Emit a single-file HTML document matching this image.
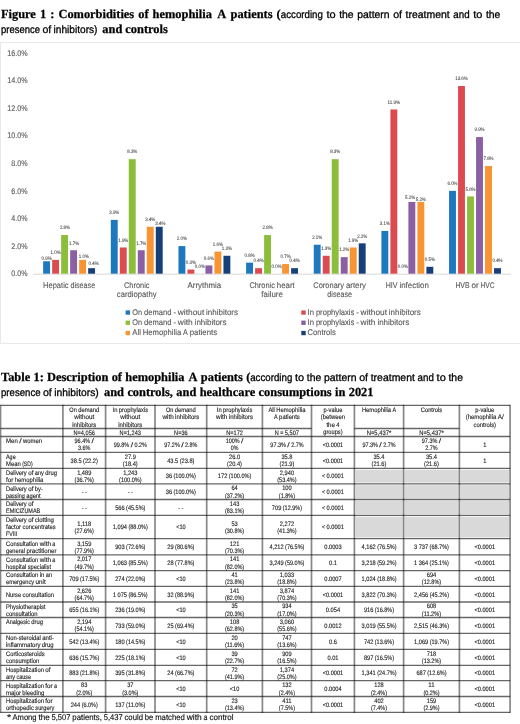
<!DOCTYPE html>
<html><head><meta charset="utf-8"><style>
html,body{margin:0;padding:0;background:#fff;width:520px;height:724px;overflow:hidden}
svg{display:block;font-family:"Liberation Sans",sans-serif;text-rendering:geometricPrecision;will-change:transform}
</style></head><body>
<svg width="520" height="724" viewBox="0 0 520 724">
<text x="1.00" y="18.10" font-family="Liberation Serif" font-weight="bold" font-size="12.4" fill="#000" stroke="#000" stroke-width="0.25" word-spacing="0.98">Figure 1 : Comorbidities of hemophilia</text>
<text x="217.25" y="18.10" font-family="Liberation Serif" font-weight="bold" font-size="12.4" fill="#000" stroke="#000" stroke-width="0.25">A</text>
<text x="230.50" y="18.10" font-family="Liberation Serif" font-weight="bold" font-size="12.4" fill="#000" stroke="#000" stroke-width="0.25">patients</text>
<text x="276.40" y="18.10" font-family="Liberation Serif" font-weight="bold" font-size="12.4" fill="#000" stroke="#000" stroke-width="0.25">(</text>
<g font-size="10.65" fill="#000" stroke="#000" stroke-width="0.3"><text x="280.80" y="18.10" textLength="42.09" lengthAdjust="spacingAndGlyphs">according</text><text x="326.43" y="18.10" textLength="9.18" lengthAdjust="spacingAndGlyphs">to</text><text x="339.16" y="18.10" textLength="14.46" lengthAdjust="spacingAndGlyphs">the</text><text x="357.17" y="18.10" textLength="32.44" lengthAdjust="spacingAndGlyphs">pattern</text><text x="393.15" y="18.10" textLength="8.87" lengthAdjust="spacingAndGlyphs">of</text><text x="405.56" y="18.10" textLength="44.22" lengthAdjust="spacingAndGlyphs">treatment</text><text x="453.32" y="18.10" textLength="16.29" lengthAdjust="spacingAndGlyphs">and</text><text x="473.16" y="18.10" textLength="9.18" lengthAdjust="spacingAndGlyphs">to</text><text x="485.89" y="18.10" textLength="14.46" lengthAdjust="spacingAndGlyphs">the</text></g>
<g font-size="10.65" fill="#000" stroke="#000" stroke-width="0.3"><text x="1.00" y="32.50" textLength="39.04" lengthAdjust="spacingAndGlyphs">presence</text><text x="42.43" y="32.50" textLength="8.77" lengthAdjust="spacingAndGlyphs">of</text><text x="53.58" y="32.50" textLength="43.92" lengthAdjust="spacingAndGlyphs">inhibitors)</text></g>
<text x="102.30" y="32.50" font-family="Liberation Serif" font-weight="bold" font-size="12.4" fill="#000" stroke="#000" stroke-width="0.25">and controls</text>
<rect x="0.5" y="42.5" width="540" height="301" fill="none" stroke="#e9e9e9" stroke-width="1"/>
<g font-size="8.20" fill="#595959" stroke="#595959" stroke-width="0.12"><text x="11.35" y="276.30" textLength="16.25" lengthAdjust="spacingAndGlyphs">0.0%</text></g>
<g font-size="8.20" fill="#595959" stroke="#595959" stroke-width="0.12"><text x="11.35" y="248.70" textLength="16.25" lengthAdjust="spacingAndGlyphs">2.0%</text></g>
<g font-size="8.20" fill="#595959" stroke="#595959" stroke-width="0.12"><text x="11.35" y="221.10" textLength="16.25" lengthAdjust="spacingAndGlyphs">4.0%</text></g>
<g font-size="8.20" fill="#595959" stroke="#595959" stroke-width="0.12"><text x="11.35" y="193.50" textLength="16.25" lengthAdjust="spacingAndGlyphs">6.0%</text></g>
<g font-size="8.20" fill="#595959" stroke="#595959" stroke-width="0.12"><text x="11.35" y="165.90" textLength="16.25" lengthAdjust="spacingAndGlyphs">8.0%</text></g>
<g font-size="8.20" fill="#595959" stroke="#595959" stroke-width="0.12"><text x="7.20" y="138.30" textLength="20.40" lengthAdjust="spacingAndGlyphs">10.0%</text></g>
<g font-size="8.20" fill="#595959" stroke="#595959" stroke-width="0.12"><text x="7.20" y="110.70" textLength="20.40" lengthAdjust="spacingAndGlyphs">12.0%</text></g>
<g font-size="8.20" fill="#595959" stroke="#595959" stroke-width="0.12"><text x="7.20" y="83.10" textLength="20.40" lengthAdjust="spacingAndGlyphs">14.0%</text></g>
<g font-size="8.20" fill="#595959" stroke="#595959" stroke-width="0.12"><text x="7.20" y="55.50" textLength="20.40" lengthAdjust="spacingAndGlyphs">16.0%</text></g>
<line x1="33.00" y1="274.20" x2="511.00" y2="274.20" stroke="#d9d9d9" stroke-width="1"/>
<rect x="43.15" y="261.28" width="6.90" height="12.42" fill="#1E78BE"/>
<g font-size="5.10" fill="#454545" stroke="#454545" stroke-width="0.08"><text x="41.55" y="259.98" textLength="10.11" lengthAdjust="spacingAndGlyphs">0.9%</text></g>
<rect x="52.15" y="259.90" width="6.90" height="13.80" fill="#DC4B50"/>
<g font-size="5.10" fill="#454545" stroke="#454545" stroke-width="0.08"><text x="50.55" y="254.20" textLength="10.11" lengthAdjust="spacingAndGlyphs">1.0%</text></g>
<rect x="61.15" y="235.06" width="6.90" height="38.64" fill="#8CBE3C"/>
<g font-size="5.10" fill="#454545" stroke="#454545" stroke-width="0.08"><text x="59.90" y="229.36" textLength="10.11" lengthAdjust="spacingAndGlyphs">2.8%</text></g>
<rect x="70.15" y="250.24" width="6.90" height="23.46" fill="#8C5FA5"/>
<g font-size="5.10" fill="#454545" stroke="#454545" stroke-width="0.08"><text x="69.00" y="244.54" textLength="10.11" lengthAdjust="spacingAndGlyphs">1.7%</text></g>
<rect x="79.15" y="259.90" width="6.90" height="13.80" fill="#F99433"/>
<g font-size="5.10" fill="#454545" stroke="#454545" stroke-width="0.08"><text x="78.75" y="257.60" textLength="10.11" lengthAdjust="spacingAndGlyphs">1.0%</text></g>
<rect x="88.15" y="268.18" width="6.90" height="5.52" fill="#173F78"/>
<g font-size="5.10" fill="#454545" stroke="#454545" stroke-width="0.08"><text x="88.55" y="265.33" textLength="10.11" lengthAdjust="spacingAndGlyphs">0.4%</text></g>
<g font-size="8.20" fill="#595959" stroke="#595959" stroke-width="0.12"><text x="43.07" y="287.70" textLength="25.52" lengthAdjust="spacingAndGlyphs">Hepatic</text><text x="70.44" y="287.70" textLength="24.69" lengthAdjust="spacingAndGlyphs">disease</text></g>
<rect x="110.80" y="219.88" width="6.90" height="53.82" fill="#1E78BE"/>
<g font-size="5.10" fill="#454545" stroke="#454545" stroke-width="0.08"><text x="109.20" y="214.18" textLength="10.11" lengthAdjust="spacingAndGlyphs">3.9%</text></g>
<rect x="119.80" y="247.48" width="6.90" height="26.22" fill="#DC4B50"/>
<g font-size="5.10" fill="#454545" stroke="#454545" stroke-width="0.08"><text x="118.20" y="241.78" textLength="10.11" lengthAdjust="spacingAndGlyphs">1.9%</text></g>
<rect x="128.80" y="159.16" width="6.90" height="114.54" fill="#8CBE3C"/>
<g font-size="5.10" fill="#454545" stroke="#454545" stroke-width="0.08"><text x="127.20" y="153.46" textLength="10.11" lengthAdjust="spacingAndGlyphs">8.3%</text></g>
<rect x="137.80" y="250.24" width="6.90" height="23.46" fill="#8C5FA5"/>
<g font-size="5.10" fill="#454545" stroke="#454545" stroke-width="0.08"><text x="136.20" y="244.54" textLength="10.11" lengthAdjust="spacingAndGlyphs">1.7%</text></g>
<rect x="146.80" y="226.78" width="6.90" height="46.92" fill="#F99433"/>
<g font-size="5.10" fill="#454545" stroke="#454545" stroke-width="0.08"><text x="145.20" y="221.08" textLength="10.11" lengthAdjust="spacingAndGlyphs">3.4%</text></g>
<rect x="155.80" y="226.78" width="6.90" height="46.92" fill="#173F78"/>
<g font-size="5.10" fill="#454545" stroke="#454545" stroke-width="0.08"><text x="155.30" y="225.38" textLength="10.11" lengthAdjust="spacingAndGlyphs">3.4%</text></g>
<g font-size="8.20" fill="#595959" stroke="#595959" stroke-width="0.12"><text x="123.99" y="287.70" textLength="25.52" lengthAdjust="spacingAndGlyphs">Chronic</text></g>
<g font-size="8.20" fill="#595959" stroke="#595959" stroke-width="0.12"><text x="116.86" y="297.40" textLength="39.77" lengthAdjust="spacingAndGlyphs">cardiopathy</text></g>
<rect x="178.45" y="246.10" width="6.90" height="27.60" fill="#1E78BE"/>
<g font-size="5.10" fill="#454545" stroke="#454545" stroke-width="0.08"><text x="176.85" y="240.40" textLength="10.11" lengthAdjust="spacingAndGlyphs">2.0%</text></g>
<rect x="187.45" y="269.56" width="6.90" height="4.14" fill="#DC4B50"/>
<g font-size="5.10" fill="#454545" stroke="#454545" stroke-width="0.08"><text x="185.85" y="263.86" textLength="10.11" lengthAdjust="spacingAndGlyphs">0.3%</text></g>
<g font-size="5.10" fill="#454545" stroke="#454545" stroke-width="0.08"><text x="194.85" y="268.00" textLength="10.11" lengthAdjust="spacingAndGlyphs">0.0%</text></g>
<rect x="205.45" y="265.42" width="6.90" height="8.28" fill="#8C5FA5"/>
<g font-size="5.10" fill="#454545" stroke="#454545" stroke-width="0.08"><text x="203.85" y="259.72" textLength="10.11" lengthAdjust="spacingAndGlyphs">0.6%</text></g>
<rect x="214.45" y="251.62" width="6.90" height="22.08" fill="#F99433"/>
<g font-size="5.10" fill="#454545" stroke="#454545" stroke-width="0.08"><text x="212.85" y="245.92" textLength="10.11" lengthAdjust="spacingAndGlyphs">1.6%</text></g>
<rect x="223.45" y="255.76" width="6.90" height="17.94" fill="#173F78"/>
<g font-size="5.10" fill="#454545" stroke="#454545" stroke-width="0.08"><text x="221.85" y="250.06" textLength="10.11" lengthAdjust="spacingAndGlyphs">1.3%</text></g>
<g font-size="8.20" fill="#595959" stroke="#595959" stroke-width="0.12"><text x="187.61" y="287.70" textLength="33.59" lengthAdjust="spacingAndGlyphs">Arrythmia</text></g>
<rect x="246.10" y="262.66" width="6.90" height="11.04" fill="#1E78BE"/>
<g font-size="5.10" fill="#454545" stroke="#454545" stroke-width="0.08"><text x="244.50" y="256.96" textLength="10.11" lengthAdjust="spacingAndGlyphs">0.8%</text></g>
<rect x="255.10" y="268.18" width="6.90" height="5.52" fill="#DC4B50"/>
<g font-size="5.10" fill="#454545" stroke="#454545" stroke-width="0.08"><text x="253.50" y="262.48" textLength="10.11" lengthAdjust="spacingAndGlyphs">0.4%</text></g>
<rect x="264.10" y="235.06" width="6.90" height="38.64" fill="#8CBE3C"/>
<g font-size="5.10" fill="#454545" stroke="#454545" stroke-width="0.08"><text x="262.50" y="229.36" textLength="10.11" lengthAdjust="spacingAndGlyphs">2.8%</text></g>
<g font-size="5.10" fill="#454545" stroke="#454545" stroke-width="0.08"><text x="271.50" y="268.00" textLength="10.11" lengthAdjust="spacingAndGlyphs">0.0%</text></g>
<rect x="282.10" y="264.04" width="6.90" height="9.66" fill="#F99433"/>
<g font-size="5.10" fill="#454545" stroke="#454545" stroke-width="0.08"><text x="280.50" y="258.34" textLength="10.11" lengthAdjust="spacingAndGlyphs">0.7%</text></g>
<rect x="291.10" y="268.18" width="6.90" height="5.52" fill="#173F78"/>
<g font-size="5.10" fill="#454545" stroke="#454545" stroke-width="0.08"><text x="289.50" y="262.48" textLength="10.11" lengthAdjust="spacingAndGlyphs">0.4%</text></g>
<g font-size="8.20" fill="#595959" stroke="#595959" stroke-width="0.12"><text x="249.40" y="287.70" textLength="25.52" lengthAdjust="spacingAndGlyphs">Chronic</text><text x="276.78" y="287.70" textLength="17.92" lengthAdjust="spacingAndGlyphs">heart</text></g>
<g font-size="8.20" fill="#595959" stroke="#595959" stroke-width="0.12"><text x="261.33" y="297.40" textLength="21.44" lengthAdjust="spacingAndGlyphs">failure</text></g>
<rect x="313.75" y="244.72" width="6.90" height="28.98" fill="#1E78BE"/>
<g font-size="5.10" fill="#454545" stroke="#454545" stroke-width="0.08"><text x="312.15" y="239.02" textLength="10.11" lengthAdjust="spacingAndGlyphs">2.1%</text></g>
<rect x="322.75" y="255.76" width="6.90" height="17.94" fill="#DC4B50"/>
<g font-size="5.10" fill="#454545" stroke="#454545" stroke-width="0.08"><text x="321.15" y="250.06" textLength="10.11" lengthAdjust="spacingAndGlyphs">1.3%</text></g>
<rect x="331.75" y="159.16" width="6.90" height="114.54" fill="#8CBE3C"/>
<g font-size="5.10" fill="#454545" stroke="#454545" stroke-width="0.08"><text x="330.15" y="153.46" textLength="10.11" lengthAdjust="spacingAndGlyphs">8.3%</text></g>
<rect x="340.75" y="257.14" width="6.90" height="16.56" fill="#8C5FA5"/>
<g font-size="5.10" fill="#454545" stroke="#454545" stroke-width="0.08"><text x="339.15" y="251.44" textLength="10.11" lengthAdjust="spacingAndGlyphs">1.2%</text></g>
<rect x="349.75" y="247.48" width="6.90" height="26.22" fill="#F99433"/>
<g font-size="5.10" fill="#454545" stroke="#454545" stroke-width="0.08"><text x="348.15" y="241.78" textLength="10.11" lengthAdjust="spacingAndGlyphs">1.9%</text></g>
<rect x="358.75" y="243.34" width="6.90" height="30.36" fill="#173F78"/>
<g font-size="5.10" fill="#454545" stroke="#454545" stroke-width="0.08"><text x="357.15" y="237.64" textLength="10.11" lengthAdjust="spacingAndGlyphs">2.2%</text></g>
<g font-size="8.20" fill="#595959" stroke="#595959" stroke-width="0.12"><text x="313.34" y="287.70" textLength="30.69" lengthAdjust="spacingAndGlyphs">Coronary</text><text x="345.88" y="287.70" textLength="20.18" lengthAdjust="spacingAndGlyphs">artery</text></g>
<g font-size="8.20" fill="#595959" stroke="#595959" stroke-width="0.12"><text x="327.35" y="297.40" textLength="24.69" lengthAdjust="spacingAndGlyphs">disease</text></g>
<rect x="381.40" y="230.92" width="6.90" height="42.78" fill="#1E78BE"/>
<g font-size="5.10" fill="#454545" stroke="#454545" stroke-width="0.08"><text x="379.80" y="225.22" textLength="10.11" lengthAdjust="spacingAndGlyphs">3.1%</text></g>
<rect x="390.40" y="109.48" width="6.90" height="164.22" fill="#DC4B50"/>
<g font-size="5.10" fill="#454545" stroke="#454545" stroke-width="0.08"><text x="387.50" y="103.78" textLength="12.69" lengthAdjust="spacingAndGlyphs">11.9%</text></g>
<g font-size="5.10" fill="#454545" stroke="#454545" stroke-width="0.08"><text x="397.80" y="268.00" textLength="10.11" lengthAdjust="spacingAndGlyphs">0.0%</text></g>
<rect x="408.40" y="201.94" width="6.90" height="71.76" fill="#8C5FA5"/>
<g font-size="5.10" fill="#454545" stroke="#454545" stroke-width="0.08"><text x="405.00" y="198.54" textLength="10.11" lengthAdjust="spacingAndGlyphs">5.2%</text></g>
<rect x="417.40" y="201.94" width="6.90" height="71.76" fill="#F99433"/>
<g font-size="5.10" fill="#454545" stroke="#454545" stroke-width="0.08"><text x="415.70" y="200.54" textLength="10.11" lengthAdjust="spacingAndGlyphs">5.2%</text></g>
<rect x="426.40" y="266.80" width="6.90" height="6.90" fill="#173F78"/>
<g font-size="5.10" fill="#454545" stroke="#454545" stroke-width="0.08"><text x="424.80" y="261.10" textLength="10.11" lengthAdjust="spacingAndGlyphs">0.5%</text></g>
<g font-size="8.20" fill="#595959" stroke="#595959" stroke-width="0.12"><text x="385.76" y="287.70" textLength="11.83" lengthAdjust="spacingAndGlyphs">HIV</text><text x="399.44" y="287.70" textLength="29.50" lengthAdjust="spacingAndGlyphs">infection</text></g>
<rect x="449.05" y="190.90" width="6.90" height="82.80" fill="#1E78BE"/>
<g font-size="5.10" fill="#454545" stroke="#454545" stroke-width="0.08"><text x="447.45" y="185.20" textLength="10.11" lengthAdjust="spacingAndGlyphs">6.0%</text></g>
<rect x="458.05" y="86.02" width="6.90" height="187.68" fill="#DC4B50"/>
<g font-size="5.10" fill="#454545" stroke="#454545" stroke-width="0.08"><text x="455.15" y="80.32" textLength="12.69" lengthAdjust="spacingAndGlyphs">13.6%</text></g>
<rect x="467.05" y="196.42" width="6.90" height="77.28" fill="#8CBE3C"/>
<g font-size="5.10" fill="#454545" stroke="#454545" stroke-width="0.08"><text x="465.45" y="190.72" textLength="10.11" lengthAdjust="spacingAndGlyphs">5.6%</text></g>
<rect x="476.05" y="137.08" width="6.90" height="136.62" fill="#8C5FA5"/>
<g font-size="5.10" fill="#454545" stroke="#454545" stroke-width="0.08"><text x="474.45" y="131.38" textLength="10.11" lengthAdjust="spacingAndGlyphs">9.9%</text></g>
<rect x="485.05" y="166.06" width="6.90" height="107.64" fill="#F99433"/>
<g font-size="5.10" fill="#454545" stroke="#454545" stroke-width="0.08"><text x="483.45" y="160.36" textLength="10.11" lengthAdjust="spacingAndGlyphs">7.8%</text></g>
<rect x="494.05" y="268.18" width="6.90" height="5.52" fill="#173F78"/>
<g font-size="5.10" fill="#454545" stroke="#454545" stroke-width="0.08"><text x="492.45" y="262.48" textLength="10.11" lengthAdjust="spacingAndGlyphs">0.4%</text></g>
<g font-size="8.20" fill="#595959" stroke="#595959" stroke-width="0.12"><text x="455.38" y="287.70" textLength="14.22" lengthAdjust="spacingAndGlyphs">HVB</text><text x="471.45" y="287.70" textLength="7.18" lengthAdjust="spacingAndGlyphs">or</text><text x="480.49" y="287.70" textLength="14.13" lengthAdjust="spacingAndGlyphs">HVC</text></g>
<rect x="125.60" y="310.40" width="4.40" height="4.30" fill="#1E78BE"/>
<g font-size="8.25" fill="#595959" stroke="#595959" stroke-width="0.12"><text x="132.30" y="314.70" textLength="9.80" lengthAdjust="spacingAndGlyphs">On</text><text x="143.96" y="314.70" textLength="27.65" lengthAdjust="spacingAndGlyphs">demand</text><text x="173.48" y="314.70" textLength="2.53" lengthAdjust="spacingAndGlyphs">-</text><text x="177.87" y="314.70" textLength="26.34" lengthAdjust="spacingAndGlyphs">without</text><text x="206.07" y="314.70" textLength="31.90" lengthAdjust="spacingAndGlyphs">inhibitors</text></g>
<rect x="301.30" y="310.40" width="4.40" height="4.30" fill="#DC4B50"/>
<g font-size="8.25" fill="#595959" stroke="#595959" stroke-width="0.12"><text x="307.60" y="314.70" textLength="6.41" lengthAdjust="spacingAndGlyphs">In</text><text x="315.88" y="314.70" textLength="38.50" lengthAdjust="spacingAndGlyphs">prophylaxis</text><text x="356.25" y="314.70" textLength="2.53" lengthAdjust="spacingAndGlyphs">-</text><text x="360.64" y="314.70" textLength="26.34" lengthAdjust="spacingAndGlyphs">without</text><text x="388.84" y="314.70" textLength="31.90" lengthAdjust="spacingAndGlyphs">inhibitors</text></g>
<rect x="125.60" y="320.60" width="4.40" height="4.30" fill="#8CBE3C"/>
<g font-size="8.25" fill="#595959" stroke="#595959" stroke-width="0.12"><text x="132.30" y="324.90" textLength="9.80" lengthAdjust="spacingAndGlyphs">On</text><text x="143.96" y="324.90" textLength="27.65" lengthAdjust="spacingAndGlyphs">demand</text><text x="173.48" y="324.90" textLength="2.53" lengthAdjust="spacingAndGlyphs">-</text><text x="177.87" y="324.90" textLength="14.89" lengthAdjust="spacingAndGlyphs">with</text><text x="194.62" y="324.90" textLength="31.90" lengthAdjust="spacingAndGlyphs">inhibitors</text></g>
<rect x="301.30" y="320.60" width="4.40" height="4.30" fill="#8C5FA5"/>
<g font-size="8.25" fill="#595959" stroke="#595959" stroke-width="0.12"><text x="307.60" y="324.90" textLength="6.41" lengthAdjust="spacingAndGlyphs">In</text><text x="315.88" y="324.90" textLength="38.50" lengthAdjust="spacingAndGlyphs">prophylaxis</text><text x="356.25" y="324.90" textLength="2.53" lengthAdjust="spacingAndGlyphs">-</text><text x="360.64" y="324.90" textLength="14.89" lengthAdjust="spacingAndGlyphs">with</text><text x="377.39" y="324.90" textLength="31.90" lengthAdjust="spacingAndGlyphs">inhibitors</text></g>
<rect x="125.60" y="330.90" width="4.40" height="4.30" fill="#F99433"/>
<g font-size="8.25" fill="#595959" stroke="#595959" stroke-width="0.12"><text x="132.30" y="335.20" textLength="8.56" lengthAdjust="spacingAndGlyphs">All</text><text x="142.73" y="335.20" textLength="38.49" lengthAdjust="spacingAndGlyphs">Hemophilia</text><text x="183.08" y="335.20" textLength="4.77" lengthAdjust="spacingAndGlyphs">A</text><text x="189.72" y="335.20" textLength="27.37" lengthAdjust="spacingAndGlyphs">patients</text></g>
<rect x="301.30" y="330.90" width="4.40" height="4.30" fill="#173F78"/>
<g font-size="8.25" fill="#595959" stroke="#595959" stroke-width="0.12"><text x="307.60" y="335.20" textLength="28.19" lengthAdjust="spacingAndGlyphs">Controls</text></g>
<text x="1.00" y="381.30" font-family="Liberation Serif" font-weight="bold" font-size="12.4" fill="#000" stroke="#000" stroke-width="0.25" word-spacing="0.20">Table 1: Description of hemophilia</text>
<text x="188.50" y="381.30" font-family="Liberation Serif" font-weight="bold" font-size="12.4" fill="#000" stroke="#000" stroke-width="0.25">A</text>
<text x="200.80" y="381.30" font-family="Liberation Serif" font-weight="bold" font-size="12.4" fill="#000" stroke="#000" stroke-width="0.25">patients</text>
<text x="246.20" y="381.30" font-family="Liberation Serif" font-weight="bold" font-size="12.4" fill="#000" stroke="#000" stroke-width="0.25">(</text>
<g font-size="10.65" fill="#000" stroke="#000" stroke-width="0.3"><text x="250.20" y="381.30" textLength="42.09" lengthAdjust="spacingAndGlyphs">according</text><text x="294.98" y="381.30" textLength="9.18" lengthAdjust="spacingAndGlyphs">to</text><text x="306.86" y="381.30" textLength="14.46" lengthAdjust="spacingAndGlyphs">the</text><text x="324.02" y="381.30" textLength="32.44" lengthAdjust="spacingAndGlyphs">pattern</text><text x="359.15" y="381.30" textLength="8.87" lengthAdjust="spacingAndGlyphs">of</text><text x="370.71" y="381.30" textLength="44.22" lengthAdjust="spacingAndGlyphs">treatment</text><text x="417.62" y="381.30" textLength="16.29" lengthAdjust="spacingAndGlyphs">and</text><text x="436.61" y="381.30" textLength="9.18" lengthAdjust="spacingAndGlyphs">to</text><text x="448.49" y="381.30" textLength="14.46" lengthAdjust="spacingAndGlyphs">the</text></g>
<g font-size="10.65" fill="#000" stroke="#000" stroke-width="0.3"><text x="1.00" y="395.50" textLength="39.53" lengthAdjust="spacingAndGlyphs">presence</text><text x="42.94" y="395.50" textLength="8.88" lengthAdjust="spacingAndGlyphs">of</text><text x="54.23" y="395.50" textLength="44.47" lengthAdjust="spacingAndGlyphs">inhibitors)</text></g>
<text x="104.00" y="395.50" font-family="Liberation Serif" font-weight="bold" font-size="12.4" fill="#000" stroke="#000" stroke-width="0.25" word-spacing="0.30">and controls, and healthcare consumptions in 2021</text>
<rect x="355.70" y="469.70" width="46.90" height="12.90" fill="#d9d9d9"/>
<rect x="404.90" y="469.70" width="53.50" height="12.90" fill="#d9d9d9"/>
<rect x="460.70" y="469.70" width="48.40" height="12.90" fill="#d9d9d9"/>
<rect x="355.70" y="485.20" width="46.90" height="13.10" fill="#d9d9d9"/>
<rect x="404.90" y="485.20" width="53.50" height="13.10" fill="#d9d9d9"/>
<rect x="460.70" y="485.20" width="48.40" height="13.10" fill="#d9d9d9"/>
<rect x="355.70" y="500.90" width="46.90" height="13.20" fill="#d9d9d9"/>
<rect x="404.90" y="500.90" width="53.50" height="13.20" fill="#d9d9d9"/>
<rect x="460.70" y="500.90" width="48.40" height="13.20" fill="#d9d9d9"/>
<rect x="355.70" y="516.70" width="46.90" height="20.80" fill="#d9d9d9"/>
<rect x="404.90" y="516.70" width="53.50" height="20.80" fill="#d9d9d9"/>
<rect x="460.70" y="516.70" width="48.40" height="20.80" fill="#d9d9d9"/>
<g font-size="6.44" fill="#222" stroke="#222" stroke-width="0.13"><text x="69.36" y="411.90" textLength="7.42" lengthAdjust="spacingAndGlyphs">On</text><text x="78.19" y="411.90" textLength="20.95" lengthAdjust="spacingAndGlyphs">demand</text></g>
<g font-size="6.44" fill="#222" stroke="#222" stroke-width="0.13"><text x="74.27" y="419.25" textLength="19.95" lengthAdjust="spacingAndGlyphs">without</text></g>
<g font-size="6.44" fill="#222" stroke="#222" stroke-width="0.13"><text x="72.17" y="426.60" textLength="24.17" lengthAdjust="spacingAndGlyphs">inhibitors</text></g>
<g font-size="6.44" fill="#222" stroke="#222" stroke-width="0.13"><text x="112.58" y="411.90" textLength="4.86" lengthAdjust="spacingAndGlyphs">In</text><text x="118.85" y="411.90" textLength="29.17" lengthAdjust="spacingAndGlyphs">prophylaxis</text></g>
<g font-size="6.44" fill="#222" stroke="#222" stroke-width="0.13"><text x="120.32" y="419.25" textLength="19.95" lengthAdjust="spacingAndGlyphs">without</text></g>
<g font-size="6.44" fill="#222" stroke="#222" stroke-width="0.13"><text x="118.22" y="426.60" textLength="24.17" lengthAdjust="spacingAndGlyphs">inhibitors</text></g>
<g font-size="6.44" fill="#222" stroke="#222" stroke-width="0.13"><text x="165.96" y="411.90" textLength="7.42" lengthAdjust="spacingAndGlyphs">On</text><text x="174.79" y="411.90" textLength="20.95" lengthAdjust="spacingAndGlyphs">demand</text></g>
<g font-size="6.44" fill="#222" stroke="#222" stroke-width="0.13"><text x="162.42" y="419.25" textLength="11.28" lengthAdjust="spacingAndGlyphs">with</text><text x="175.11" y="419.25" textLength="24.17" lengthAdjust="spacingAndGlyphs">inhibitors</text></g>
<g font-size="6.44" fill="#222" stroke="#222" stroke-width="0.13"><text x="216.83" y="411.90" textLength="4.86" lengthAdjust="spacingAndGlyphs">In</text><text x="223.10" y="411.90" textLength="29.17" lengthAdjust="spacingAndGlyphs">prophylaxis</text></g>
<g font-size="6.44" fill="#222" stroke="#222" stroke-width="0.13"><text x="216.12" y="419.25" textLength="11.28" lengthAdjust="spacingAndGlyphs">with</text><text x="228.81" y="419.25" textLength="24.17" lengthAdjust="spacingAndGlyphs">inhibitors</text></g>
<g font-size="6.44" fill="#222" stroke="#222" stroke-width="0.13"><text x="268.42" y="411.90" textLength="6.48" lengthAdjust="spacingAndGlyphs">All</text><text x="276.32" y="411.90" textLength="29.16" lengthAdjust="spacingAndGlyphs">Hemophilia</text></g>
<g font-size="6.44" fill="#222" stroke="#222" stroke-width="0.13"><text x="274.07" y="419.25" textLength="3.62" lengthAdjust="spacingAndGlyphs">A</text><text x="279.10" y="419.25" textLength="20.74" lengthAdjust="spacingAndGlyphs">patients</text></g>
<g font-size="6.44" fill="#222" stroke="#222" stroke-width="0.13"><text x="323.53" y="411.90" textLength="18.84" lengthAdjust="spacingAndGlyphs">p-value</text></g>
<g font-size="6.44" fill="#222" stroke="#222" stroke-width="0.13"><text x="320.78" y="419.25" textLength="24.35" lengthAdjust="spacingAndGlyphs">(between</text></g>
<g font-size="6.44" fill="#222" stroke="#222" stroke-width="0.13"><text x="326.42" y="426.60" textLength="8.49" lengthAdjust="spacingAndGlyphs">the</text><text x="336.32" y="426.60" textLength="3.17" lengthAdjust="spacingAndGlyphs">4</text></g>
<g font-size="6.44" fill="#222" stroke="#222" stroke-width="0.13"><text x="323.29" y="433.95" textLength="19.32" lengthAdjust="spacingAndGlyphs">groups)</text></g>
<g font-size="6.44" fill="#222" stroke="#222" stroke-width="0.13"><text x="361.91" y="411.90" textLength="29.16" lengthAdjust="spacingAndGlyphs">Hemophilia</text><text x="392.48" y="411.90" textLength="3.62" lengthAdjust="spacingAndGlyphs">A</text></g>
<g font-size="6.44" fill="#222" stroke="#222" stroke-width="0.13"><text x="420.82" y="411.90" textLength="21.36" lengthAdjust="spacingAndGlyphs">Controls</text></g>
<g font-size="6.44" fill="#222" stroke="#222" stroke-width="0.13"><text x="475.33" y="411.90" textLength="18.84" lengthAdjust="spacingAndGlyphs">p-value</text></g>
<g font-size="6.44" fill="#222" stroke="#222" stroke-width="0.13"><text x="465.81" y="419.25" textLength="30.44" lengthAdjust="spacingAndGlyphs">(hemophilia</text><text x="497.66" y="419.25" textLength="6.03" lengthAdjust="spacingAndGlyphs">A/</text></g>
<g font-size="6.44" fill="#222" stroke="#222" stroke-width="0.13"><text x="473.47" y="426.60" textLength="22.56" lengthAdjust="spacingAndGlyphs">controls)</text></g>
<g font-size="6.44" fill="#222" stroke="#222" stroke-width="0.13"><text x="73.56" y="434.90" textLength="21.37" lengthAdjust="spacingAndGlyphs">N=4,056</text></g>
<g font-size="6.44" fill="#222" stroke="#222" stroke-width="0.13"><text x="119.61" y="434.90" textLength="21.37" lengthAdjust="spacingAndGlyphs">N=1,243</text></g>
<g font-size="6.44" fill="#222" stroke="#222" stroke-width="0.13"><text x="174.11" y="434.90" textLength="13.48" lengthAdjust="spacingAndGlyphs">N=36</text></g>
<g font-size="6.44" fill="#222" stroke="#222" stroke-width="0.13"><text x="226.23" y="434.90" textLength="16.65" lengthAdjust="spacingAndGlyphs">N=172</text></g>
<g font-size="6.44" fill="#222" stroke="#222" stroke-width="0.13"><text x="274.85" y="434.90" textLength="4.03" lengthAdjust="spacingAndGlyphs">N</text><text x="280.30" y="434.90" textLength="3.11" lengthAdjust="spacingAndGlyphs">=</text><text x="284.82" y="434.90" textLength="14.23" lengthAdjust="spacingAndGlyphs">5,507</text></g>
<g font-size="6.44" fill="#222" stroke="#222" stroke-width="0.13"><text x="366.76" y="434.90" textLength="24.48" lengthAdjust="spacingAndGlyphs">N=5,437*</text></g>
<g font-size="6.44" fill="#222" stroke="#222" stroke-width="0.13"><text x="419.26" y="434.90" textLength="24.48" lengthAdjust="spacingAndGlyphs">N=5,437*</text></g>
<g font-size="6.44" fill="#222" stroke="#222" stroke-width="0.13"><text x="6.00" y="443.30" textLength="11.74" lengthAdjust="spacingAndGlyphs">Men</text><text x="19.15" y="443.30" textLength="2.41" lengthAdjust="spacingAndGlyphs">/</text><text x="22.98" y="443.30" textLength="19.15" lengthAdjust="spacingAndGlyphs">women</text></g>
<g font-size="6.44" fill="#222" stroke="#222" stroke-width="0.13"><text x="74.56" y="443.10" textLength="15.55" lengthAdjust="spacingAndGlyphs">96.4%</text><text x="91.53" y="443.10" textLength="2.41" lengthAdjust="spacingAndGlyphs">/</text></g>
<g font-size="6.44" fill="#222" stroke="#222" stroke-width="0.13"><text x="78.06" y="450.30" textLength="12.38" lengthAdjust="spacingAndGlyphs">3.6%</text></g>
<g font-size="6.44" fill="#222" stroke="#222" stroke-width="0.13"><text x="113.71" y="446.70" textLength="15.55" lengthAdjust="spacingAndGlyphs">99.8%</text><text x="130.68" y="446.70" textLength="2.41" lengthAdjust="spacingAndGlyphs">/</text><text x="134.50" y="446.70" textLength="12.38" lengthAdjust="spacingAndGlyphs">0.2%</text></g>
<g font-size="6.44" fill="#222" stroke="#222" stroke-width="0.13"><text x="164.26" y="446.70" textLength="15.55" lengthAdjust="spacingAndGlyphs">97.2%</text><text x="181.23" y="446.70" textLength="2.41" lengthAdjust="spacingAndGlyphs">/</text><text x="185.05" y="446.70" textLength="12.38" lengthAdjust="spacingAndGlyphs">2.8%</text></g>
<g font-size="6.44" fill="#222" stroke="#222" stroke-width="0.13"><text x="225.65" y="443.10" textLength="13.97" lengthAdjust="spacingAndGlyphs">100%</text><text x="241.04" y="443.10" textLength="2.41" lengthAdjust="spacingAndGlyphs">/</text></g>
<g font-size="6.44" fill="#222" stroke="#222" stroke-width="0.13"><text x="230.73" y="450.30" textLength="7.64" lengthAdjust="spacingAndGlyphs">0%</text></g>
<g font-size="6.44" fill="#222" stroke="#222" stroke-width="0.13"><text x="270.36" y="446.70" textLength="15.55" lengthAdjust="spacingAndGlyphs">97.3%</text><text x="287.33" y="446.70" textLength="2.41" lengthAdjust="spacingAndGlyphs">/</text><text x="291.15" y="446.70" textLength="12.38" lengthAdjust="spacingAndGlyphs">2.7%</text></g>
<g font-size="6.44" fill="#222" stroke="#222" stroke-width="0.13"><text x="322.69" y="446.70" textLength="20.53" lengthAdjust="spacingAndGlyphs">&lt;0.0001</text></g>
<g font-size="6.44" fill="#222" stroke="#222" stroke-width="0.13"><text x="362.41" y="446.70" textLength="15.55" lengthAdjust="spacingAndGlyphs">97.3%</text><text x="379.38" y="446.70" textLength="2.41" lengthAdjust="spacingAndGlyphs">/</text><text x="383.20" y="446.70" textLength="12.38" lengthAdjust="spacingAndGlyphs">2.7%</text></g>
<g font-size="6.44" fill="#222" stroke="#222" stroke-width="0.13"><text x="421.81" y="443.10" textLength="15.55" lengthAdjust="spacingAndGlyphs">97.3%</text><text x="438.78" y="443.10" textLength="2.41" lengthAdjust="spacingAndGlyphs">/</text></g>
<g font-size="6.44" fill="#222" stroke="#222" stroke-width="0.13"><text x="425.31" y="450.30" textLength="12.38" lengthAdjust="spacingAndGlyphs">2.7%</text></g>
<g font-size="6.44" fill="#222" stroke="#222" stroke-width="0.13"><text x="483.17" y="446.70" textLength="3.17" lengthAdjust="spacingAndGlyphs">1</text></g>
<g font-size="6.44" fill="#222" stroke="#222" stroke-width="0.13"><text x="6.00" y="459.10" textLength="9.67" lengthAdjust="spacingAndGlyphs">Age</text></g>
<g font-size="6.44" fill="#222" stroke="#222" stroke-width="0.13"><text x="6.00" y="466.10" textLength="14.73" lengthAdjust="spacingAndGlyphs">Mean</text><text x="22.14" y="466.10" textLength="10.49" lengthAdjust="spacingAndGlyphs">(SD)</text></g>
<g font-size="6.44" fill="#222" stroke="#222" stroke-width="0.13"><text x="70.57" y="462.60" textLength="11.08" lengthAdjust="spacingAndGlyphs">38.5</text><text x="83.07" y="462.60" textLength="14.86" lengthAdjust="spacingAndGlyphs">(22.2)</text></g>
<g font-size="6.44" fill="#222" stroke="#222" stroke-width="0.13"><text x="124.76" y="459.00" textLength="11.08" lengthAdjust="spacingAndGlyphs">27.9</text></g>
<g font-size="6.44" fill="#222" stroke="#222" stroke-width="0.13"><text x="122.87" y="466.20" textLength="14.86" lengthAdjust="spacingAndGlyphs">(18.4)</text></g>
<g font-size="6.44" fill="#222" stroke="#222" stroke-width="0.13"><text x="167.17" y="462.60" textLength="11.08" lengthAdjust="spacingAndGlyphs">43.5</text><text x="179.67" y="462.60" textLength="14.86" lengthAdjust="spacingAndGlyphs">(23.8)</text></g>
<g font-size="6.44" fill="#222" stroke="#222" stroke-width="0.13"><text x="229.01" y="459.00" textLength="11.08" lengthAdjust="spacingAndGlyphs">26.0</text></g>
<g font-size="6.44" fill="#222" stroke="#222" stroke-width="0.13"><text x="227.12" y="466.20" textLength="14.86" lengthAdjust="spacingAndGlyphs">(20.4)</text></g>
<g font-size="6.44" fill="#222" stroke="#222" stroke-width="0.13"><text x="281.41" y="459.00" textLength="11.08" lengthAdjust="spacingAndGlyphs">35.8</text></g>
<g font-size="6.44" fill="#222" stroke="#222" stroke-width="0.13"><text x="279.52" y="466.20" textLength="14.86" lengthAdjust="spacingAndGlyphs">(21.9)</text></g>
<g font-size="6.44" fill="#222" stroke="#222" stroke-width="0.13"><text x="322.69" y="462.60" textLength="20.53" lengthAdjust="spacingAndGlyphs">&lt;0.0001</text></g>
<g font-size="6.44" fill="#222" stroke="#222" stroke-width="0.13"><text x="373.46" y="459.00" textLength="11.08" lengthAdjust="spacingAndGlyphs">35.4</text></g>
<g font-size="6.44" fill="#222" stroke="#222" stroke-width="0.13"><text x="371.57" y="466.20" textLength="14.86" lengthAdjust="spacingAndGlyphs">(21.6)</text></g>
<g font-size="6.44" fill="#222" stroke="#222" stroke-width="0.13"><text x="425.96" y="459.00" textLength="11.08" lengthAdjust="spacingAndGlyphs">35.4</text></g>
<g font-size="6.44" fill="#222" stroke="#222" stroke-width="0.13"><text x="424.07" y="466.20" textLength="14.86" lengthAdjust="spacingAndGlyphs">(21.6)</text></g>
<g font-size="6.44" fill="#222" stroke="#222" stroke-width="0.13"><text x="483.17" y="462.60" textLength="3.17" lengthAdjust="spacingAndGlyphs">1</text></g>
<g font-size="6.44" fill="#222" stroke="#222" stroke-width="0.13"><text x="6.00" y="475.10" textLength="20.76" lengthAdjust="spacingAndGlyphs">Delivery</text><text x="28.18" y="475.10" textLength="5.20" lengthAdjust="spacingAndGlyphs">of</text><text x="34.79" y="475.10" textLength="9.11" lengthAdjust="spacingAndGlyphs">any</text><text x="45.31" y="475.10" textLength="11.69" lengthAdjust="spacingAndGlyphs">drug</text></g>
<g font-size="6.44" fill="#222" stroke="#222" stroke-width="0.13"><text x="6.00" y="482.10" textLength="7.38" lengthAdjust="spacingAndGlyphs">for</text><text x="14.80" y="482.10" textLength="28.55" lengthAdjust="spacingAndGlyphs">hemophilia</text></g>
<g font-size="6.44" fill="#222" stroke="#222" stroke-width="0.13"><text x="77.13" y="474.75" textLength="14.23" lengthAdjust="spacingAndGlyphs">1,489</text></g>
<g font-size="6.44" fill="#222" stroke="#222" stroke-width="0.13"><text x="74.59" y="481.95" textLength="19.33" lengthAdjust="spacingAndGlyphs">(36.7%)</text></g>
<g font-size="6.44" fill="#222" stroke="#222" stroke-width="0.13"><text x="123.18" y="474.75" textLength="14.23" lengthAdjust="spacingAndGlyphs">1,243</text></g>
<g font-size="6.44" fill="#222" stroke="#222" stroke-width="0.13"><text x="119.05" y="481.95" textLength="22.50" lengthAdjust="spacingAndGlyphs">(100.0%)</text></g>
<g font-size="6.44" fill="#222" stroke="#222" stroke-width="0.13"><text x="165.73" y="478.35" textLength="6.34" lengthAdjust="spacingAndGlyphs">36</text><text x="173.48" y="478.35" textLength="22.50" lengthAdjust="spacingAndGlyphs">(100.0%)</text></g>
<g font-size="6.44" fill="#222" stroke="#222" stroke-width="0.13"><text x="217.84" y="478.35" textLength="9.50" lengthAdjust="spacingAndGlyphs">172</text><text x="228.76" y="478.35" textLength="22.50" lengthAdjust="spacingAndGlyphs">(100.0%)</text></g>
<g font-size="6.44" fill="#222" stroke="#222" stroke-width="0.13"><text x="279.83" y="474.75" textLength="14.23" lengthAdjust="spacingAndGlyphs">2,940</text></g>
<g font-size="6.44" fill="#222" stroke="#222" stroke-width="0.13"><text x="277.29" y="481.95" textLength="19.33" lengthAdjust="spacingAndGlyphs">(53.4%)</text></g>
<g font-size="6.44" fill="#222" stroke="#222" stroke-width="0.13"><text x="321.98" y="478.35" textLength="3.11" lengthAdjust="spacingAndGlyphs">&lt;</text><text x="326.50" y="478.35" textLength="17.42" lengthAdjust="spacingAndGlyphs">0.0001</text></g>
<g font-size="6.44" fill="#222" stroke="#222" stroke-width="0.13"><text x="6.00" y="490.60" textLength="20.76" lengthAdjust="spacingAndGlyphs">Delivery</text><text x="28.18" y="490.60" textLength="5.20" lengthAdjust="spacingAndGlyphs">of</text><text x="34.79" y="490.60" textLength="8.03" lengthAdjust="spacingAndGlyphs">by-</text></g>
<g font-size="6.44" fill="#222" stroke="#222" stroke-width="0.13"><text x="6.00" y="497.60" textLength="18.83" lengthAdjust="spacingAndGlyphs">passing</text><text x="26.24" y="497.60" textLength="14.42" lengthAdjust="spacingAndGlyphs">agent</text></g>
<g font-size="6.44" fill="#222" stroke="#222" stroke-width="0.13"><text x="81.63" y="493.95" textLength="1.91" lengthAdjust="spacingAndGlyphs">-</text><text x="84.96" y="493.95" textLength="1.91" lengthAdjust="spacingAndGlyphs">-</text></g>
<g font-size="6.44" fill="#222" stroke="#222" stroke-width="0.13"><text x="127.68" y="493.95" textLength="1.91" lengthAdjust="spacingAndGlyphs">-</text><text x="131.01" y="493.95" textLength="1.91" lengthAdjust="spacingAndGlyphs">-</text></g>
<g font-size="6.44" fill="#222" stroke="#222" stroke-width="0.13"><text x="165.73" y="493.95" textLength="6.34" lengthAdjust="spacingAndGlyphs">36</text><text x="173.48" y="493.95" textLength="22.50" lengthAdjust="spacingAndGlyphs">(100.0%)</text></g>
<g font-size="6.44" fill="#222" stroke="#222" stroke-width="0.13"><text x="231.38" y="490.35" textLength="6.34" lengthAdjust="spacingAndGlyphs">64</text></g>
<g font-size="6.44" fill="#222" stroke="#222" stroke-width="0.13"><text x="224.89" y="497.55" textLength="19.33" lengthAdjust="spacingAndGlyphs">(37.2%)</text></g>
<g font-size="6.44" fill="#222" stroke="#222" stroke-width="0.13"><text x="282.20" y="490.35" textLength="9.50" lengthAdjust="spacingAndGlyphs">100</text></g>
<g font-size="6.44" fill="#222" stroke="#222" stroke-width="0.13"><text x="278.87" y="497.55" textLength="16.16" lengthAdjust="spacingAndGlyphs">(1.8%)</text></g>
<g font-size="6.44" fill="#222" stroke="#222" stroke-width="0.13"><text x="321.98" y="493.95" textLength="3.11" lengthAdjust="spacingAndGlyphs">&lt;</text><text x="326.50" y="493.95" textLength="17.42" lengthAdjust="spacingAndGlyphs">0.0001</text></g>
<g font-size="6.44" fill="#222" stroke="#222" stroke-width="0.13"><text x="6.00" y="506.30" textLength="20.76" lengthAdjust="spacingAndGlyphs">Delivery</text><text x="28.18" y="506.30" textLength="5.20" lengthAdjust="spacingAndGlyphs">of</text></g>
<g font-size="6.44" fill="#222" stroke="#222" stroke-width="0.13"><text x="6.00" y="513.30" textLength="34.17" lengthAdjust="spacingAndGlyphs">EMICIZUMAB</text></g>
<g font-size="6.44" fill="#222" stroke="#222" stroke-width="0.13"><text x="81.63" y="509.70" textLength="1.91" lengthAdjust="spacingAndGlyphs">-</text><text x="84.96" y="509.70" textLength="1.91" lengthAdjust="spacingAndGlyphs">-</text></g>
<g font-size="6.44" fill="#222" stroke="#222" stroke-width="0.13"><text x="115.18" y="509.70" textLength="9.50" lengthAdjust="spacingAndGlyphs">566</text><text x="126.09" y="509.70" textLength="19.33" lengthAdjust="spacingAndGlyphs">(45.5%)</text></g>
<g font-size="6.44" fill="#222" stroke="#222" stroke-width="0.13"><text x="178.23" y="509.70" textLength="1.91" lengthAdjust="spacingAndGlyphs">-</text><text x="181.56" y="509.70" textLength="1.91" lengthAdjust="spacingAndGlyphs">-</text></g>
<g font-size="6.44" fill="#222" stroke="#222" stroke-width="0.13"><text x="229.80" y="506.10" textLength="9.50" lengthAdjust="spacingAndGlyphs">143</text></g>
<g font-size="6.44" fill="#222" stroke="#222" stroke-width="0.13"><text x="224.89" y="513.30" textLength="19.33" lengthAdjust="spacingAndGlyphs">(83.1%)</text></g>
<g font-size="6.44" fill="#222" stroke="#222" stroke-width="0.13"><text x="271.83" y="509.70" textLength="9.50" lengthAdjust="spacingAndGlyphs">709</text><text x="282.74" y="509.70" textLength="19.33" lengthAdjust="spacingAndGlyphs">(12.9%)</text></g>
<g font-size="6.44" fill="#222" stroke="#222" stroke-width="0.13"><text x="321.98" y="509.70" textLength="3.11" lengthAdjust="spacingAndGlyphs">&lt;</text><text x="326.50" y="509.70" textLength="17.42" lengthAdjust="spacingAndGlyphs">0.0001</text></g>
<g font-size="6.44" fill="#222" stroke="#222" stroke-width="0.13"><text x="6.00" y="522.10" textLength="20.76" lengthAdjust="spacingAndGlyphs">Delivery</text><text x="28.18" y="522.10" textLength="5.20" lengthAdjust="spacingAndGlyphs">of</text><text x="34.79" y="522.10" textLength="19.22" lengthAdjust="spacingAndGlyphs">clotting</text></g>
<g font-size="6.44" fill="#222" stroke="#222" stroke-width="0.13"><text x="6.00" y="529.10" textLength="15.11" lengthAdjust="spacingAndGlyphs">factor</text><text x="22.53" y="529.10" textLength="33.17" lengthAdjust="spacingAndGlyphs">concentrates</text></g>
<g font-size="6.44" fill="#222" stroke="#222" stroke-width="0.13"><text x="6.00" y="536.10" textLength="11.14" lengthAdjust="spacingAndGlyphs">FVIII</text></g>
<g font-size="6.44" fill="#222" stroke="#222" stroke-width="0.13"><text x="77.13" y="525.70" textLength="14.23" lengthAdjust="spacingAndGlyphs">1,118</text></g>
<g font-size="6.44" fill="#222" stroke="#222" stroke-width="0.13"><text x="74.59" y="532.90" textLength="19.33" lengthAdjust="spacingAndGlyphs">(27.6%)</text></g>
<g font-size="6.44" fill="#222" stroke="#222" stroke-width="0.13"><text x="112.81" y="529.30" textLength="14.23" lengthAdjust="spacingAndGlyphs">1,094</text><text x="128.46" y="529.30" textLength="19.33" lengthAdjust="spacingAndGlyphs">(88.0%)</text></g>
<g font-size="6.44" fill="#222" stroke="#222" stroke-width="0.13"><text x="176.13" y="529.30" textLength="9.45" lengthAdjust="spacingAndGlyphs">&lt;10</text></g>
<g font-size="6.44" fill="#222" stroke="#222" stroke-width="0.13"><text x="231.38" y="525.70" textLength="6.34" lengthAdjust="spacingAndGlyphs">53</text></g>
<g font-size="6.44" fill="#222" stroke="#222" stroke-width="0.13"><text x="224.89" y="532.90" textLength="19.33" lengthAdjust="spacingAndGlyphs">(30.8%)</text></g>
<g font-size="6.44" fill="#222" stroke="#222" stroke-width="0.13"><text x="279.83" y="525.70" textLength="14.23" lengthAdjust="spacingAndGlyphs">2,272</text></g>
<g font-size="6.44" fill="#222" stroke="#222" stroke-width="0.13"><text x="277.29" y="532.90" textLength="19.33" lengthAdjust="spacingAndGlyphs">(41.3%)</text></g>
<g font-size="6.44" fill="#222" stroke="#222" stroke-width="0.13"><text x="321.98" y="529.30" textLength="3.11" lengthAdjust="spacingAndGlyphs">&lt;</text><text x="326.50" y="529.30" textLength="17.42" lengthAdjust="spacingAndGlyphs">0.0001</text></g>
<g font-size="6.44" fill="#222" stroke="#222" stroke-width="0.13"><text x="6.00" y="545.50" textLength="32.27" lengthAdjust="spacingAndGlyphs">Consultation</text><text x="39.68" y="545.50" textLength="11.28" lengthAdjust="spacingAndGlyphs">with</text><text x="52.37" y="545.50" textLength="2.99" lengthAdjust="spacingAndGlyphs">a</text></g>
<g font-size="6.44" fill="#222" stroke="#222" stroke-width="0.13"><text x="6.00" y="552.50" textLength="19.05" lengthAdjust="spacingAndGlyphs">general</text><text x="26.47" y="552.50" textLength="30.02" lengthAdjust="spacingAndGlyphs">practitioner</text></g>
<g font-size="6.44" fill="#222" stroke="#222" stroke-width="0.13"><text x="77.13" y="545.50" textLength="14.23" lengthAdjust="spacingAndGlyphs">3,159</text></g>
<g font-size="6.44" fill="#222" stroke="#222" stroke-width="0.13"><text x="74.59" y="552.70" textLength="19.33" lengthAdjust="spacingAndGlyphs">(77.9%)</text></g>
<g font-size="6.44" fill="#222" stroke="#222" stroke-width="0.13"><text x="115.18" y="549.10" textLength="9.50" lengthAdjust="spacingAndGlyphs">903</text><text x="126.09" y="549.10" textLength="19.33" lengthAdjust="spacingAndGlyphs">(72.6%)</text></g>
<g font-size="6.44" fill="#222" stroke="#222" stroke-width="0.13"><text x="167.31" y="549.10" textLength="6.34" lengthAdjust="spacingAndGlyphs">29</text><text x="175.06" y="549.10" textLength="19.33" lengthAdjust="spacingAndGlyphs">(80.6%)</text></g>
<g font-size="6.44" fill="#222" stroke="#222" stroke-width="0.13"><text x="229.80" y="545.50" textLength="9.50" lengthAdjust="spacingAndGlyphs">121</text></g>
<g font-size="6.44" fill="#222" stroke="#222" stroke-width="0.13"><text x="224.89" y="552.70" textLength="19.33" lengthAdjust="spacingAndGlyphs">(70.3%)</text></g>
<g font-size="6.44" fill="#222" stroke="#222" stroke-width="0.13"><text x="269.46" y="549.10" textLength="14.23" lengthAdjust="spacingAndGlyphs">4,212</text><text x="285.11" y="549.10" textLength="19.33" lengthAdjust="spacingAndGlyphs">(76.5%)</text></g>
<g font-size="6.44" fill="#222" stroke="#222" stroke-width="0.13"><text x="324.24" y="549.10" textLength="17.42" lengthAdjust="spacingAndGlyphs">0.0003</text></g>
<g font-size="6.44" fill="#222" stroke="#222" stroke-width="0.13"><text x="361.51" y="549.10" textLength="14.23" lengthAdjust="spacingAndGlyphs">4,162</text><text x="377.16" y="549.10" textLength="19.33" lengthAdjust="spacingAndGlyphs">(76.5%)</text></g>
<g font-size="6.44" fill="#222" stroke="#222" stroke-width="0.13"><text x="414.09" y="549.10" textLength="3.17" lengthAdjust="spacingAndGlyphs">3</text><text x="418.67" y="549.10" textLength="9.50" lengthAdjust="spacingAndGlyphs">737</text><text x="429.58" y="549.10" textLength="19.33" lengthAdjust="spacingAndGlyphs">(68.7%)</text></g>
<g font-size="6.44" fill="#222" stroke="#222" stroke-width="0.13"><text x="474.49" y="549.10" textLength="20.53" lengthAdjust="spacingAndGlyphs">&lt;0.0001</text></g>
<g font-size="6.44" fill="#222" stroke="#222" stroke-width="0.13"><text x="6.00" y="561.70" textLength="32.27" lengthAdjust="spacingAndGlyphs">Consultation</text><text x="39.68" y="561.70" textLength="11.28" lengthAdjust="spacingAndGlyphs">with</text><text x="52.37" y="561.70" textLength="2.99" lengthAdjust="spacingAndGlyphs">a</text></g>
<g font-size="6.44" fill="#222" stroke="#222" stroke-width="0.13"><text x="6.00" y="568.70" textLength="20.26" lengthAdjust="spacingAndGlyphs">hospital</text><text x="27.68" y="568.70" textLength="23.32" lengthAdjust="spacingAndGlyphs">specialist</text></g>
<g font-size="6.44" fill="#222" stroke="#222" stroke-width="0.13"><text x="77.13" y="561.45" textLength="14.23" lengthAdjust="spacingAndGlyphs">2,017</text></g>
<g font-size="6.44" fill="#222" stroke="#222" stroke-width="0.13"><text x="74.59" y="568.65" textLength="19.33" lengthAdjust="spacingAndGlyphs">(49.7%)</text></g>
<g font-size="6.44" fill="#222" stroke="#222" stroke-width="0.13"><text x="112.81" y="565.05" textLength="14.23" lengthAdjust="spacingAndGlyphs">1,063</text><text x="128.46" y="565.05" textLength="19.33" lengthAdjust="spacingAndGlyphs">(85.5%)</text></g>
<g font-size="6.44" fill="#222" stroke="#222" stroke-width="0.13"><text x="167.31" y="565.05" textLength="6.34" lengthAdjust="spacingAndGlyphs">28</text><text x="175.06" y="565.05" textLength="19.33" lengthAdjust="spacingAndGlyphs">(77.8%)</text></g>
<g font-size="6.44" fill="#222" stroke="#222" stroke-width="0.13"><text x="229.80" y="561.45" textLength="9.50" lengthAdjust="spacingAndGlyphs">141</text></g>
<g font-size="6.44" fill="#222" stroke="#222" stroke-width="0.13"><text x="224.89" y="568.65" textLength="19.33" lengthAdjust="spacingAndGlyphs">(82.0%)</text></g>
<g font-size="6.44" fill="#222" stroke="#222" stroke-width="0.13"><text x="269.46" y="565.05" textLength="14.23" lengthAdjust="spacingAndGlyphs">3,249</text><text x="285.11" y="565.05" textLength="19.33" lengthAdjust="spacingAndGlyphs">(59.0%)</text></g>
<g font-size="6.44" fill="#222" stroke="#222" stroke-width="0.13"><text x="328.99" y="565.05" textLength="7.91" lengthAdjust="spacingAndGlyphs">0.1</text></g>
<g font-size="6.44" fill="#222" stroke="#222" stroke-width="0.13"><text x="361.51" y="565.05" textLength="14.23" lengthAdjust="spacingAndGlyphs">3,218</text><text x="377.16" y="565.05" textLength="19.33" lengthAdjust="spacingAndGlyphs">(59.2%)</text></g>
<g font-size="6.44" fill="#222" stroke="#222" stroke-width="0.13"><text x="414.09" y="565.05" textLength="3.17" lengthAdjust="spacingAndGlyphs">1</text><text x="418.67" y="565.05" textLength="9.50" lengthAdjust="spacingAndGlyphs">364</text><text x="429.58" y="565.05" textLength="19.33" lengthAdjust="spacingAndGlyphs">(25.1%)</text></g>
<g font-size="6.44" fill="#222" stroke="#222" stroke-width="0.13"><text x="474.49" y="565.05" textLength="20.53" lengthAdjust="spacingAndGlyphs">&lt;0.0001</text></g>
<g font-size="6.44" fill="#222" stroke="#222" stroke-width="0.13"><text x="6.00" y="577.40" textLength="32.27" lengthAdjust="spacingAndGlyphs">Consultation</text><text x="39.68" y="577.40" textLength="4.72" lengthAdjust="spacingAndGlyphs">in</text><text x="45.81" y="577.40" textLength="6.28" lengthAdjust="spacingAndGlyphs">an</text></g>
<g font-size="6.44" fill="#222" stroke="#222" stroke-width="0.13"><text x="6.00" y="584.40" textLength="28.20" lengthAdjust="spacingAndGlyphs">emergency</text><text x="35.61" y="584.40" textLength="10.10" lengthAdjust="spacingAndGlyphs">unit</text></g>
<g font-size="6.44" fill="#222" stroke="#222" stroke-width="0.13"><text x="69.13" y="580.80" textLength="9.50" lengthAdjust="spacingAndGlyphs">709</text><text x="80.04" y="580.80" textLength="19.33" lengthAdjust="spacingAndGlyphs">(17.5%)</text></g>
<g font-size="6.44" fill="#222" stroke="#222" stroke-width="0.13"><text x="115.18" y="580.80" textLength="9.50" lengthAdjust="spacingAndGlyphs">274</text><text x="126.09" y="580.80" textLength="19.33" lengthAdjust="spacingAndGlyphs">(22.0%)</text></g>
<g font-size="6.44" fill="#222" stroke="#222" stroke-width="0.13"><text x="176.13" y="580.80" textLength="9.45" lengthAdjust="spacingAndGlyphs">&lt;10</text></g>
<g font-size="6.44" fill="#222" stroke="#222" stroke-width="0.13"><text x="231.38" y="577.20" textLength="6.34" lengthAdjust="spacingAndGlyphs">41</text></g>
<g font-size="6.44" fill="#222" stroke="#222" stroke-width="0.13"><text x="224.89" y="584.40" textLength="19.33" lengthAdjust="spacingAndGlyphs">(23.8%)</text></g>
<g font-size="6.44" fill="#222" stroke="#222" stroke-width="0.13"><text x="279.83" y="577.20" textLength="14.23" lengthAdjust="spacingAndGlyphs">1,033</text></g>
<g font-size="6.44" fill="#222" stroke="#222" stroke-width="0.13"><text x="277.29" y="584.40" textLength="19.33" lengthAdjust="spacingAndGlyphs">(18.8%)</text></g>
<g font-size="6.44" fill="#222" stroke="#222" stroke-width="0.13"><text x="324.24" y="580.80" textLength="17.42" lengthAdjust="spacingAndGlyphs">0.0007</text></g>
<g font-size="6.44" fill="#222" stroke="#222" stroke-width="0.13"><text x="361.51" y="580.80" textLength="14.23" lengthAdjust="spacingAndGlyphs">1,024</text><text x="377.16" y="580.80" textLength="19.33" lengthAdjust="spacingAndGlyphs">(18.8%)</text></g>
<g font-size="6.44" fill="#222" stroke="#222" stroke-width="0.13"><text x="426.75" y="577.20" textLength="9.50" lengthAdjust="spacingAndGlyphs">694</text></g>
<g font-size="6.44" fill="#222" stroke="#222" stroke-width="0.13"><text x="421.84" y="584.40" textLength="19.33" lengthAdjust="spacingAndGlyphs">(12.8%)</text></g>
<g font-size="6.44" fill="#222" stroke="#222" stroke-width="0.13"><text x="474.49" y="580.80" textLength="20.53" lengthAdjust="spacingAndGlyphs">&lt;0.0001</text></g>
<g font-size="6.44" fill="#222" stroke="#222" stroke-width="0.13"><text x="6.00" y="596.50" textLength="15.05" lengthAdjust="spacingAndGlyphs">Nurse</text><text x="22.46" y="596.50" textLength="31.58" lengthAdjust="spacingAndGlyphs">consultation</text></g>
<g font-size="6.44" fill="#222" stroke="#222" stroke-width="0.13"><text x="77.13" y="592.90" textLength="14.23" lengthAdjust="spacingAndGlyphs">2,626</text></g>
<g font-size="6.44" fill="#222" stroke="#222" stroke-width="0.13"><text x="74.59" y="600.10" textLength="19.33" lengthAdjust="spacingAndGlyphs">(64.7%)</text></g>
<g font-size="6.44" fill="#222" stroke="#222" stroke-width="0.13"><text x="112.89" y="596.50" textLength="3.17" lengthAdjust="spacingAndGlyphs">1</text><text x="117.47" y="596.50" textLength="9.50" lengthAdjust="spacingAndGlyphs">075</text><text x="128.38" y="596.50" textLength="19.33" lengthAdjust="spacingAndGlyphs">(86.5%)</text></g>
<g font-size="6.44" fill="#222" stroke="#222" stroke-width="0.13"><text x="167.31" y="596.50" textLength="6.34" lengthAdjust="spacingAndGlyphs">32</text><text x="175.06" y="596.50" textLength="19.33" lengthAdjust="spacingAndGlyphs">(88.9%)</text></g>
<g font-size="6.44" fill="#222" stroke="#222" stroke-width="0.13"><text x="229.80" y="592.90" textLength="9.50" lengthAdjust="spacingAndGlyphs">141</text></g>
<g font-size="6.44" fill="#222" stroke="#222" stroke-width="0.13"><text x="224.89" y="600.10" textLength="19.33" lengthAdjust="spacingAndGlyphs">(82.0%)</text></g>
<g font-size="6.44" fill="#222" stroke="#222" stroke-width="0.13"><text x="279.83" y="592.90" textLength="14.23" lengthAdjust="spacingAndGlyphs">3,874</text></g>
<g font-size="6.44" fill="#222" stroke="#222" stroke-width="0.13"><text x="277.29" y="600.10" textLength="19.33" lengthAdjust="spacingAndGlyphs">(70.3%)</text></g>
<g font-size="6.44" fill="#222" stroke="#222" stroke-width="0.13"><text x="322.69" y="596.50" textLength="20.53" lengthAdjust="spacingAndGlyphs">&lt;0.0001</text></g>
<g font-size="6.44" fill="#222" stroke="#222" stroke-width="0.13"><text x="361.51" y="596.50" textLength="14.23" lengthAdjust="spacingAndGlyphs">3,822</text><text x="377.16" y="596.50" textLength="19.33" lengthAdjust="spacingAndGlyphs">(70.3%)</text></g>
<g font-size="6.44" fill="#222" stroke="#222" stroke-width="0.13"><text x="414.01" y="596.50" textLength="14.23" lengthAdjust="spacingAndGlyphs">2,456</text><text x="429.66" y="596.50" textLength="19.33" lengthAdjust="spacingAndGlyphs">(45.2%)</text></g>
<g font-size="6.44" fill="#222" stroke="#222" stroke-width="0.13"><text x="474.49" y="596.50" textLength="20.53" lengthAdjust="spacingAndGlyphs">&lt;0.0001</text></g>
<g font-size="6.44" fill="#222" stroke="#222" stroke-width="0.13"><text x="6.00" y="608.80" textLength="39.43" lengthAdjust="spacingAndGlyphs">Physiotherapist</text></g>
<g font-size="6.44" fill="#222" stroke="#222" stroke-width="0.13"><text x="6.00" y="615.80" textLength="31.58" lengthAdjust="spacingAndGlyphs">consultation</text></g>
<g font-size="6.44" fill="#222" stroke="#222" stroke-width="0.13"><text x="69.13" y="612.05" textLength="9.50" lengthAdjust="spacingAndGlyphs">655</text><text x="80.04" y="612.05" textLength="19.33" lengthAdjust="spacingAndGlyphs">(16.1%)</text></g>
<g font-size="6.44" fill="#222" stroke="#222" stroke-width="0.13"><text x="115.18" y="612.05" textLength="9.50" lengthAdjust="spacingAndGlyphs">236</text><text x="126.09" y="612.05" textLength="19.33" lengthAdjust="spacingAndGlyphs">(19.0%)</text></g>
<g font-size="6.44" fill="#222" stroke="#222" stroke-width="0.13"><text x="176.13" y="612.05" textLength="9.45" lengthAdjust="spacingAndGlyphs">&lt;10</text></g>
<g font-size="6.44" fill="#222" stroke="#222" stroke-width="0.13"><text x="231.38" y="608.45" textLength="6.34" lengthAdjust="spacingAndGlyphs">35</text></g>
<g font-size="6.44" fill="#222" stroke="#222" stroke-width="0.13"><text x="224.89" y="615.65" textLength="19.33" lengthAdjust="spacingAndGlyphs">(20.3%)</text></g>
<g font-size="6.44" fill="#222" stroke="#222" stroke-width="0.13"><text x="282.20" y="608.45" textLength="9.50" lengthAdjust="spacingAndGlyphs">934</text></g>
<g font-size="6.44" fill="#222" stroke="#222" stroke-width="0.13"><text x="277.29" y="615.65" textLength="19.33" lengthAdjust="spacingAndGlyphs">(17.0%)</text></g>
<g font-size="6.44" fill="#222" stroke="#222" stroke-width="0.13"><text x="325.83" y="612.05" textLength="14.25" lengthAdjust="spacingAndGlyphs">0.054</text></g>
<g font-size="6.44" fill="#222" stroke="#222" stroke-width="0.13"><text x="363.88" y="612.05" textLength="9.50" lengthAdjust="spacingAndGlyphs">916</text><text x="374.79" y="612.05" textLength="19.33" lengthAdjust="spacingAndGlyphs">(16.8%)</text></g>
<g font-size="6.44" fill="#222" stroke="#222" stroke-width="0.13"><text x="426.75" y="608.45" textLength="9.50" lengthAdjust="spacingAndGlyphs">608</text></g>
<g font-size="6.44" fill="#222" stroke="#222" stroke-width="0.13"><text x="421.84" y="615.65" textLength="19.33" lengthAdjust="spacingAndGlyphs">(11.2%)</text></g>
<g font-size="6.44" fill="#222" stroke="#222" stroke-width="0.13"><text x="474.49" y="612.05" textLength="20.53" lengthAdjust="spacingAndGlyphs">&lt;0.0001</text></g>
<g font-size="6.44" fill="#222" stroke="#222" stroke-width="0.13"><text x="6.00" y="624.30" textLength="23.90" lengthAdjust="spacingAndGlyphs">Analgesic</text><text x="31.31" y="624.30" textLength="11.69" lengthAdjust="spacingAndGlyphs">drug</text></g>
<g font-size="6.44" fill="#222" stroke="#222" stroke-width="0.13"><text x="77.13" y="624.15" textLength="14.23" lengthAdjust="spacingAndGlyphs">2,194</text></g>
<g font-size="6.44" fill="#222" stroke="#222" stroke-width="0.13"><text x="74.59" y="631.35" textLength="19.33" lengthAdjust="spacingAndGlyphs">(54.1%)</text></g>
<g font-size="6.44" fill="#222" stroke="#222" stroke-width="0.13"><text x="115.18" y="627.75" textLength="9.50" lengthAdjust="spacingAndGlyphs">733</text><text x="126.09" y="627.75" textLength="19.33" lengthAdjust="spacingAndGlyphs">(59.0%)</text></g>
<g font-size="6.44" fill="#222" stroke="#222" stroke-width="0.13"><text x="167.31" y="627.75" textLength="6.34" lengthAdjust="spacingAndGlyphs">25</text><text x="175.06" y="627.75" textLength="19.33" lengthAdjust="spacingAndGlyphs">(69.4%)</text></g>
<g font-size="6.44" fill="#222" stroke="#222" stroke-width="0.13"><text x="229.80" y="624.15" textLength="9.50" lengthAdjust="spacingAndGlyphs">108</text></g>
<g font-size="6.44" fill="#222" stroke="#222" stroke-width="0.13"><text x="224.89" y="631.35" textLength="19.33" lengthAdjust="spacingAndGlyphs">(62.8%)</text></g>
<g font-size="6.44" fill="#222" stroke="#222" stroke-width="0.13"><text x="279.83" y="624.15" textLength="14.23" lengthAdjust="spacingAndGlyphs">3,060</text></g>
<g font-size="6.44" fill="#222" stroke="#222" stroke-width="0.13"><text x="277.29" y="631.35" textLength="19.33" lengthAdjust="spacingAndGlyphs">(55.6%)</text></g>
<g font-size="6.44" fill="#222" stroke="#222" stroke-width="0.13"><text x="324.24" y="627.75" textLength="17.42" lengthAdjust="spacingAndGlyphs">0.0012</text></g>
<g font-size="6.44" fill="#222" stroke="#222" stroke-width="0.13"><text x="361.51" y="627.75" textLength="14.23" lengthAdjust="spacingAndGlyphs">3,019</text><text x="377.16" y="627.75" textLength="19.33" lengthAdjust="spacingAndGlyphs">(55.5%)</text></g>
<g font-size="6.44" fill="#222" stroke="#222" stroke-width="0.13"><text x="414.01" y="627.75" textLength="14.23" lengthAdjust="spacingAndGlyphs">2,515</text><text x="429.66" y="627.75" textLength="19.33" lengthAdjust="spacingAndGlyphs">(46.3%)</text></g>
<g font-size="6.44" fill="#222" stroke="#222" stroke-width="0.13"><text x="474.49" y="627.75" textLength="20.53" lengthAdjust="spacingAndGlyphs">&lt;0.0001</text></g>
<g font-size="6.44" fill="#222" stroke="#222" stroke-width="0.13"><text x="6.00" y="640.20" textLength="34.80" lengthAdjust="spacingAndGlyphs">Non-steroidal</text><text x="42.21" y="640.20" textLength="11.72" lengthAdjust="spacingAndGlyphs">anti-</text></g>
<g font-size="6.44" fill="#222" stroke="#222" stroke-width="0.13"><text x="6.00" y="647.20" textLength="34.43" lengthAdjust="spacingAndGlyphs">inflammatory</text><text x="41.84" y="647.20" textLength="11.69" lengthAdjust="spacingAndGlyphs">drug</text></g>
<g font-size="6.44" fill="#222" stroke="#222" stroke-width="0.13"><text x="69.13" y="643.65" textLength="9.50" lengthAdjust="spacingAndGlyphs">542</text><text x="80.04" y="643.65" textLength="19.33" lengthAdjust="spacingAndGlyphs">(13.4%)</text></g>
<g font-size="6.44" fill="#222" stroke="#222" stroke-width="0.13"><text x="115.18" y="643.65" textLength="9.50" lengthAdjust="spacingAndGlyphs">180</text><text x="126.09" y="643.65" textLength="19.33" lengthAdjust="spacingAndGlyphs">(14.5%)</text></g>
<g font-size="6.44" fill="#222" stroke="#222" stroke-width="0.13"><text x="176.13" y="643.65" textLength="9.45" lengthAdjust="spacingAndGlyphs">&lt;10</text></g>
<g font-size="6.44" fill="#222" stroke="#222" stroke-width="0.13"><text x="231.38" y="640.05" textLength="6.34" lengthAdjust="spacingAndGlyphs">20</text></g>
<g font-size="6.44" fill="#222" stroke="#222" stroke-width="0.13"><text x="224.89" y="647.25" textLength="19.33" lengthAdjust="spacingAndGlyphs">(11.6%)</text></g>
<g font-size="6.44" fill="#222" stroke="#222" stroke-width="0.13"><text x="282.20" y="640.05" textLength="9.50" lengthAdjust="spacingAndGlyphs">747</text></g>
<g font-size="6.44" fill="#222" stroke="#222" stroke-width="0.13"><text x="277.29" y="647.25" textLength="19.33" lengthAdjust="spacingAndGlyphs">(13.6%)</text></g>
<g font-size="6.44" fill="#222" stroke="#222" stroke-width="0.13"><text x="328.99" y="643.65" textLength="7.91" lengthAdjust="spacingAndGlyphs">0.6</text></g>
<g font-size="6.44" fill="#222" stroke="#222" stroke-width="0.13"><text x="363.88" y="643.65" textLength="9.50" lengthAdjust="spacingAndGlyphs">742</text><text x="374.79" y="643.65" textLength="19.33" lengthAdjust="spacingAndGlyphs">(13.6%)</text></g>
<g font-size="6.44" fill="#222" stroke="#222" stroke-width="0.13"><text x="414.01" y="643.65" textLength="14.23" lengthAdjust="spacingAndGlyphs">1,069</text><text x="429.66" y="643.65" textLength="19.33" lengthAdjust="spacingAndGlyphs">(19.7%)</text></g>
<g font-size="6.44" fill="#222" stroke="#222" stroke-width="0.13"><text x="474.49" y="643.65" textLength="20.53" lengthAdjust="spacingAndGlyphs">&lt;0.0001</text></g>
<g font-size="6.44" fill="#222" stroke="#222" stroke-width="0.13"><text x="6.00" y="656.10" textLength="38.56" lengthAdjust="spacingAndGlyphs">Corticosteroids</text></g>
<g font-size="6.44" fill="#222" stroke="#222" stroke-width="0.13"><text x="6.00" y="663.10" textLength="33.33" lengthAdjust="spacingAndGlyphs">consumption</text></g>
<g font-size="6.44" fill="#222" stroke="#222" stroke-width="0.13"><text x="69.13" y="659.60" textLength="9.50" lengthAdjust="spacingAndGlyphs">636</text><text x="80.04" y="659.60" textLength="19.33" lengthAdjust="spacingAndGlyphs">(15.7%)</text></g>
<g font-size="6.44" fill="#222" stroke="#222" stroke-width="0.13"><text x="115.18" y="659.60" textLength="9.50" lengthAdjust="spacingAndGlyphs">225</text><text x="126.09" y="659.60" textLength="19.33" lengthAdjust="spacingAndGlyphs">(18.1%)</text></g>
<g font-size="6.44" fill="#222" stroke="#222" stroke-width="0.13"><text x="176.13" y="659.60" textLength="9.45" lengthAdjust="spacingAndGlyphs">&lt;10</text></g>
<g font-size="6.44" fill="#222" stroke="#222" stroke-width="0.13"><text x="231.38" y="656.00" textLength="6.34" lengthAdjust="spacingAndGlyphs">39</text></g>
<g font-size="6.44" fill="#222" stroke="#222" stroke-width="0.13"><text x="224.89" y="663.20" textLength="19.33" lengthAdjust="spacingAndGlyphs">(22.7%)</text></g>
<g font-size="6.44" fill="#222" stroke="#222" stroke-width="0.13"><text x="282.20" y="656.00" textLength="9.50" lengthAdjust="spacingAndGlyphs">909</text></g>
<g font-size="6.44" fill="#222" stroke="#222" stroke-width="0.13"><text x="277.29" y="663.20" textLength="19.33" lengthAdjust="spacingAndGlyphs">(16.5%)</text></g>
<g font-size="6.44" fill="#222" stroke="#222" stroke-width="0.13"><text x="327.41" y="659.60" textLength="11.08" lengthAdjust="spacingAndGlyphs">0.01</text></g>
<g font-size="6.44" fill="#222" stroke="#222" stroke-width="0.13"><text x="363.88" y="659.60" textLength="9.50" lengthAdjust="spacingAndGlyphs">897</text><text x="374.79" y="659.60" textLength="19.33" lengthAdjust="spacingAndGlyphs">(16.5%)</text></g>
<g font-size="6.44" fill="#222" stroke="#222" stroke-width="0.13"><text x="426.75" y="656.00" textLength="9.50" lengthAdjust="spacingAndGlyphs">718</text></g>
<g font-size="6.44" fill="#222" stroke="#222" stroke-width="0.13"><text x="421.84" y="663.20" textLength="19.33" lengthAdjust="spacingAndGlyphs">(13.2%)</text></g>
<g font-size="6.44" fill="#222" stroke="#222" stroke-width="0.13"><text x="474.49" y="659.60" textLength="20.53" lengthAdjust="spacingAndGlyphs">&lt;0.0001</text></g>
<g font-size="6.44" fill="#222" stroke="#222" stroke-width="0.13"><text x="6.00" y="672.10" textLength="37.88" lengthAdjust="spacingAndGlyphs">Hospitalization</text><text x="45.29" y="672.10" textLength="5.20" lengthAdjust="spacingAndGlyphs">of</text></g>
<g font-size="6.44" fill="#222" stroke="#222" stroke-width="0.13"><text x="6.00" y="679.10" textLength="9.11" lengthAdjust="spacingAndGlyphs">any</text><text x="16.52" y="679.10" textLength="14.47" lengthAdjust="spacingAndGlyphs">cause</text></g>
<g font-size="6.44" fill="#222" stroke="#222" stroke-width="0.13"><text x="69.13" y="675.30" textLength="9.50" lengthAdjust="spacingAndGlyphs">883</text><text x="80.04" y="675.30" textLength="19.33" lengthAdjust="spacingAndGlyphs">(21.8%)</text></g>
<g font-size="6.44" fill="#222" stroke="#222" stroke-width="0.13"><text x="115.18" y="675.30" textLength="9.50" lengthAdjust="spacingAndGlyphs">395</text><text x="126.09" y="675.30" textLength="19.33" lengthAdjust="spacingAndGlyphs">(31.8%)</text></g>
<g font-size="6.44" fill="#222" stroke="#222" stroke-width="0.13"><text x="167.31" y="675.30" textLength="6.34" lengthAdjust="spacingAndGlyphs">24</text><text x="175.06" y="675.30" textLength="19.33" lengthAdjust="spacingAndGlyphs">(66.7%)</text></g>
<g font-size="6.44" fill="#222" stroke="#222" stroke-width="0.13"><text x="231.38" y="671.70" textLength="6.34" lengthAdjust="spacingAndGlyphs">72</text></g>
<g font-size="6.44" fill="#222" stroke="#222" stroke-width="0.13"><text x="224.89" y="678.90" textLength="19.33" lengthAdjust="spacingAndGlyphs">(41.9%)</text></g>
<g font-size="6.44" fill="#222" stroke="#222" stroke-width="0.13"><text x="279.83" y="671.70" textLength="14.23" lengthAdjust="spacingAndGlyphs">1,374</text></g>
<g font-size="6.44" fill="#222" stroke="#222" stroke-width="0.13"><text x="277.29" y="678.90" textLength="19.33" lengthAdjust="spacingAndGlyphs">(25.0%)</text></g>
<g font-size="6.44" fill="#222" stroke="#222" stroke-width="0.13"><text x="322.69" y="675.30" textLength="20.53" lengthAdjust="spacingAndGlyphs">&lt;0.0001</text></g>
<g font-size="6.44" fill="#222" stroke="#222" stroke-width="0.13"><text x="361.51" y="675.30" textLength="14.23" lengthAdjust="spacingAndGlyphs">1,341</text><text x="377.16" y="675.30" textLength="19.33" lengthAdjust="spacingAndGlyphs">(24.7%)</text></g>
<g font-size="6.44" fill="#222" stroke="#222" stroke-width="0.13"><text x="416.38" y="675.30" textLength="9.50" lengthAdjust="spacingAndGlyphs">687</text><text x="427.29" y="675.30" textLength="19.33" lengthAdjust="spacingAndGlyphs">(12.6%)</text></g>
<g font-size="6.44" fill="#222" stroke="#222" stroke-width="0.13"><text x="474.49" y="675.30" textLength="20.53" lengthAdjust="spacingAndGlyphs">&lt;0.0001</text></g>
<g font-size="6.44" fill="#222" stroke="#222" stroke-width="0.13"><text x="6.00" y="687.50" textLength="37.88" lengthAdjust="spacingAndGlyphs">Hospitalization</text><text x="45.29" y="687.50" textLength="7.38" lengthAdjust="spacingAndGlyphs">for</text><text x="54.09" y="687.50" textLength="2.99" lengthAdjust="spacingAndGlyphs">a</text></g>
<g font-size="6.44" fill="#222" stroke="#222" stroke-width="0.13"><text x="6.00" y="694.50" textLength="14.96" lengthAdjust="spacingAndGlyphs">major</text><text x="22.37" y="694.50" textLength="21.88" lengthAdjust="spacingAndGlyphs">bleeding</text></g>
<g font-size="6.44" fill="#222" stroke="#222" stroke-width="0.13"><text x="81.08" y="687.30" textLength="6.34" lengthAdjust="spacingAndGlyphs">83</text></g>
<g font-size="6.44" fill="#222" stroke="#222" stroke-width="0.13"><text x="76.17" y="694.50" textLength="16.16" lengthAdjust="spacingAndGlyphs">(2.0%)</text></g>
<g font-size="6.44" fill="#222" stroke="#222" stroke-width="0.13"><text x="127.13" y="687.30" textLength="6.34" lengthAdjust="spacingAndGlyphs">37</text></g>
<g font-size="6.44" fill="#222" stroke="#222" stroke-width="0.13"><text x="122.22" y="694.50" textLength="16.16" lengthAdjust="spacingAndGlyphs">(3.0%)</text></g>
<g font-size="6.44" fill="#222" stroke="#222" stroke-width="0.13"><text x="176.13" y="690.90" textLength="9.45" lengthAdjust="spacingAndGlyphs">&lt;10</text></g>
<g font-size="6.44" fill="#222" stroke="#222" stroke-width="0.13"><text x="229.83" y="690.90" textLength="9.45" lengthAdjust="spacingAndGlyphs">&lt;10</text></g>
<g font-size="6.44" fill="#222" stroke="#222" stroke-width="0.13"><text x="282.20" y="687.30" textLength="9.50" lengthAdjust="spacingAndGlyphs">132</text></g>
<g font-size="6.44" fill="#222" stroke="#222" stroke-width="0.13"><text x="278.87" y="694.50" textLength="16.16" lengthAdjust="spacingAndGlyphs">(2.4%)</text></g>
<g font-size="6.44" fill="#222" stroke="#222" stroke-width="0.13"><text x="324.24" y="690.90" textLength="17.42" lengthAdjust="spacingAndGlyphs">0.0004</text></g>
<g font-size="6.44" fill="#222" stroke="#222" stroke-width="0.13"><text x="374.25" y="687.30" textLength="9.50" lengthAdjust="spacingAndGlyphs">128</text></g>
<g font-size="6.44" fill="#222" stroke="#222" stroke-width="0.13"><text x="370.92" y="694.50" textLength="16.16" lengthAdjust="spacingAndGlyphs">(2.4%)</text></g>
<g font-size="6.44" fill="#222" stroke="#222" stroke-width="0.13"><text x="428.33" y="687.30" textLength="6.34" lengthAdjust="spacingAndGlyphs">11</text></g>
<g font-size="6.44" fill="#222" stroke="#222" stroke-width="0.13"><text x="423.42" y="694.50" textLength="16.16" lengthAdjust="spacingAndGlyphs">(0.2%)</text></g>
<g font-size="6.44" fill="#222" stroke="#222" stroke-width="0.13"><text x="474.49" y="690.90" textLength="20.53" lengthAdjust="spacingAndGlyphs">&lt;0.0001</text></g>
<g font-size="6.44" fill="#222" stroke="#222" stroke-width="0.13"><text x="6.00" y="703.30" textLength="37.88" lengthAdjust="spacingAndGlyphs">Hospitalization</text><text x="45.29" y="703.30" textLength="7.38" lengthAdjust="spacingAndGlyphs">for</text></g>
<g font-size="6.44" fill="#222" stroke="#222" stroke-width="0.13"><text x="6.00" y="710.30" textLength="27.90" lengthAdjust="spacingAndGlyphs">orthopedic</text><text x="35.32" y="710.30" textLength="18.97" lengthAdjust="spacingAndGlyphs">surgery</text></g>
<g font-size="6.44" fill="#222" stroke="#222" stroke-width="0.13"><text x="70.71" y="706.70" textLength="9.50" lengthAdjust="spacingAndGlyphs">244</text><text x="81.63" y="706.70" textLength="16.16" lengthAdjust="spacingAndGlyphs">(6.0%)</text></g>
<g font-size="6.44" fill="#222" stroke="#222" stroke-width="0.13"><text x="115.18" y="706.70" textLength="9.50" lengthAdjust="spacingAndGlyphs">137</text><text x="126.09" y="706.70" textLength="19.33" lengthAdjust="spacingAndGlyphs">(11.0%)</text></g>
<g font-size="6.44" fill="#222" stroke="#222" stroke-width="0.13"><text x="176.13" y="706.70" textLength="9.45" lengthAdjust="spacingAndGlyphs">&lt;10</text></g>
<g font-size="6.44" fill="#222" stroke="#222" stroke-width="0.13"><text x="231.38" y="703.10" textLength="6.34" lengthAdjust="spacingAndGlyphs">23</text></g>
<g font-size="6.44" fill="#222" stroke="#222" stroke-width="0.13"><text x="224.89" y="710.30" textLength="19.33" lengthAdjust="spacingAndGlyphs">(13.4%)</text></g>
<g font-size="6.44" fill="#222" stroke="#222" stroke-width="0.13"><text x="282.20" y="703.10" textLength="9.50" lengthAdjust="spacingAndGlyphs">411</text></g>
<g font-size="6.44" fill="#222" stroke="#222" stroke-width="0.13"><text x="278.87" y="710.30" textLength="16.16" lengthAdjust="spacingAndGlyphs">(7.5%)</text></g>
<g font-size="6.44" fill="#222" stroke="#222" stroke-width="0.13"><text x="322.69" y="706.70" textLength="20.53" lengthAdjust="spacingAndGlyphs">&lt;0.0001</text></g>
<g font-size="6.44" fill="#222" stroke="#222" stroke-width="0.13"><text x="374.25" y="703.10" textLength="9.50" lengthAdjust="spacingAndGlyphs">402</text></g>
<g font-size="6.44" fill="#222" stroke="#222" stroke-width="0.13"><text x="370.92" y="710.30" textLength="16.16" lengthAdjust="spacingAndGlyphs">(7.4%)</text></g>
<g font-size="6.44" fill="#222" stroke="#222" stroke-width="0.13"><text x="426.75" y="703.10" textLength="9.50" lengthAdjust="spacingAndGlyphs">159</text></g>
<g font-size="6.44" fill="#222" stroke="#222" stroke-width="0.13"><text x="423.42" y="710.30" textLength="16.16" lengthAdjust="spacingAndGlyphs">(2.9%)</text></g>
<g font-size="6.44" fill="#222" stroke="#222" stroke-width="0.13"><text x="474.49" y="706.70" textLength="20.53" lengthAdjust="spacingAndGlyphs">&lt;0.0001</text></g>
<line x1="0.50" y1="405.30" x2="510.10" y2="405.30" stroke="#000" stroke-width="1.3" stroke-opacity="0.6"/>
<line x1="0.50" y1="428.50" x2="311.50" y2="428.50" stroke="#000" stroke-width="1.3" stroke-opacity="0.6"/>
<line x1="354.40" y1="428.50" x2="459.40" y2="428.50" stroke="#000" stroke-width="1.3" stroke-opacity="0.6"/>
<line x1="0.50" y1="436.50" x2="510.10" y2="436.50" stroke="#000" stroke-width="1.3" stroke-opacity="0.6"/>
<line x1="0.50" y1="452.30" x2="510.10" y2="452.30" stroke="#000" stroke-width="1.3" stroke-opacity="0.6"/>
<line x1="0.50" y1="468.30" x2="510.10" y2="468.30" stroke="#000" stroke-width="1.3" stroke-opacity="0.6"/>
<line x1="0.50" y1="483.80" x2="510.10" y2="483.80" stroke="#000" stroke-width="1.3" stroke-opacity="0.6"/>
<line x1="0.50" y1="499.50" x2="510.10" y2="499.50" stroke="#000" stroke-width="1.3" stroke-opacity="0.6"/>
<line x1="0.50" y1="515.30" x2="510.10" y2="515.30" stroke="#000" stroke-width="1.3" stroke-opacity="0.6"/>
<line x1="0.50" y1="538.70" x2="510.10" y2="538.70" stroke="#000" stroke-width="1.3" stroke-opacity="0.6"/>
<line x1="0.50" y1="554.90" x2="510.10" y2="554.90" stroke="#000" stroke-width="1.3" stroke-opacity="0.6"/>
<line x1="0.50" y1="570.60" x2="510.10" y2="570.60" stroke="#000" stroke-width="1.3" stroke-opacity="0.6"/>
<line x1="0.50" y1="586.40" x2="510.10" y2="586.40" stroke="#000" stroke-width="1.3" stroke-opacity="0.6"/>
<line x1="0.50" y1="602.00" x2="510.10" y2="602.00" stroke="#000" stroke-width="1.3" stroke-opacity="0.6"/>
<line x1="0.50" y1="617.50" x2="510.10" y2="617.50" stroke="#000" stroke-width="1.3" stroke-opacity="0.6"/>
<line x1="0.50" y1="633.40" x2="510.10" y2="633.40" stroke="#000" stroke-width="1.3" stroke-opacity="0.6"/>
<line x1="0.50" y1="649.30" x2="510.10" y2="649.30" stroke="#000" stroke-width="1.3" stroke-opacity="0.6"/>
<line x1="0.50" y1="665.30" x2="510.10" y2="665.30" stroke="#000" stroke-width="1.3" stroke-opacity="0.6"/>
<line x1="0.50" y1="680.70" x2="510.10" y2="680.70" stroke="#000" stroke-width="1.3" stroke-opacity="0.6"/>
<line x1="0.50" y1="696.50" x2="510.10" y2="696.50" stroke="#000" stroke-width="1.3" stroke-opacity="0.6"/>
<line x1="0.50" y1="712.30" x2="510.10" y2="712.30" stroke="#000" stroke-width="1.3" stroke-opacity="0.6"/>
<line x1="0.50" y1="404.70" x2="0.50" y2="712.90" stroke="#000" stroke-width="1.7" stroke-opacity="0.47"/>
<line x1="62.90" y1="404.70" x2="62.90" y2="712.90" stroke="#000" stroke-width="1.7" stroke-opacity="0.47"/>
<line x1="105.60" y1="404.70" x2="105.60" y2="712.90" stroke="#000" stroke-width="1.7" stroke-opacity="0.47"/>
<line x1="155.00" y1="404.70" x2="155.00" y2="712.90" stroke="#000" stroke-width="1.7" stroke-opacity="0.47"/>
<line x1="206.70" y1="404.70" x2="206.70" y2="712.90" stroke="#000" stroke-width="1.7" stroke-opacity="0.47"/>
<line x1="262.40" y1="404.70" x2="262.40" y2="712.90" stroke="#000" stroke-width="1.7" stroke-opacity="0.47"/>
<line x1="311.50" y1="404.70" x2="311.50" y2="712.90" stroke="#000" stroke-width="1.7" stroke-opacity="0.47"/>
<line x1="354.40" y1="404.70" x2="354.40" y2="712.90" stroke="#000" stroke-width="1.7" stroke-opacity="0.47"/>
<line x1="403.60" y1="404.70" x2="403.60" y2="712.90" stroke="#000" stroke-width="1.7" stroke-opacity="0.47"/>
<line x1="459.40" y1="404.70" x2="459.40" y2="712.90" stroke="#000" stroke-width="1.7" stroke-opacity="0.47"/>
<line x1="510.10" y1="404.70" x2="510.10" y2="712.90" stroke="#000" stroke-width="1.7" stroke-opacity="0.47"/>
<g font-size="8.30" fill="#111" stroke="#111" stroke-width="0.15"><text x="6.90" y="720.30" textLength="4.13" lengthAdjust="spacingAndGlyphs">*</text></g>
<g font-size="8.30" fill="#111" stroke="#111" stroke-width="0.15"><text x="12.50" y="720.10" textLength="24.04" lengthAdjust="spacingAndGlyphs">Among</text><text x="38.42" y="720.10" textLength="11.25" lengthAdjust="spacingAndGlyphs">the</text><text x="51.54" y="720.10" textLength="18.87" lengthAdjust="spacingAndGlyphs">5,507</text><text x="72.29" y="720.10" textLength="29.57" lengthAdjust="spacingAndGlyphs">patients,</text><text x="103.73" y="720.10" textLength="18.87" lengthAdjust="spacingAndGlyphs">5,437</text><text x="124.47" y="720.10" textLength="18.49" lengthAdjust="spacingAndGlyphs">could</text><text x="144.83" y="720.10" textLength="8.48" lengthAdjust="spacingAndGlyphs">be</text><text x="155.18" y="720.10" textLength="29.70" lengthAdjust="spacingAndGlyphs">matched</text><text x="186.76" y="720.10" textLength="14.96" lengthAdjust="spacingAndGlyphs">with</text><text x="203.59" y="720.10" textLength="3.97" lengthAdjust="spacingAndGlyphs">a</text><text x="209.43" y="720.10" textLength="24.17" lengthAdjust="spacingAndGlyphs">control</text></g>
</svg>
</body></html>
